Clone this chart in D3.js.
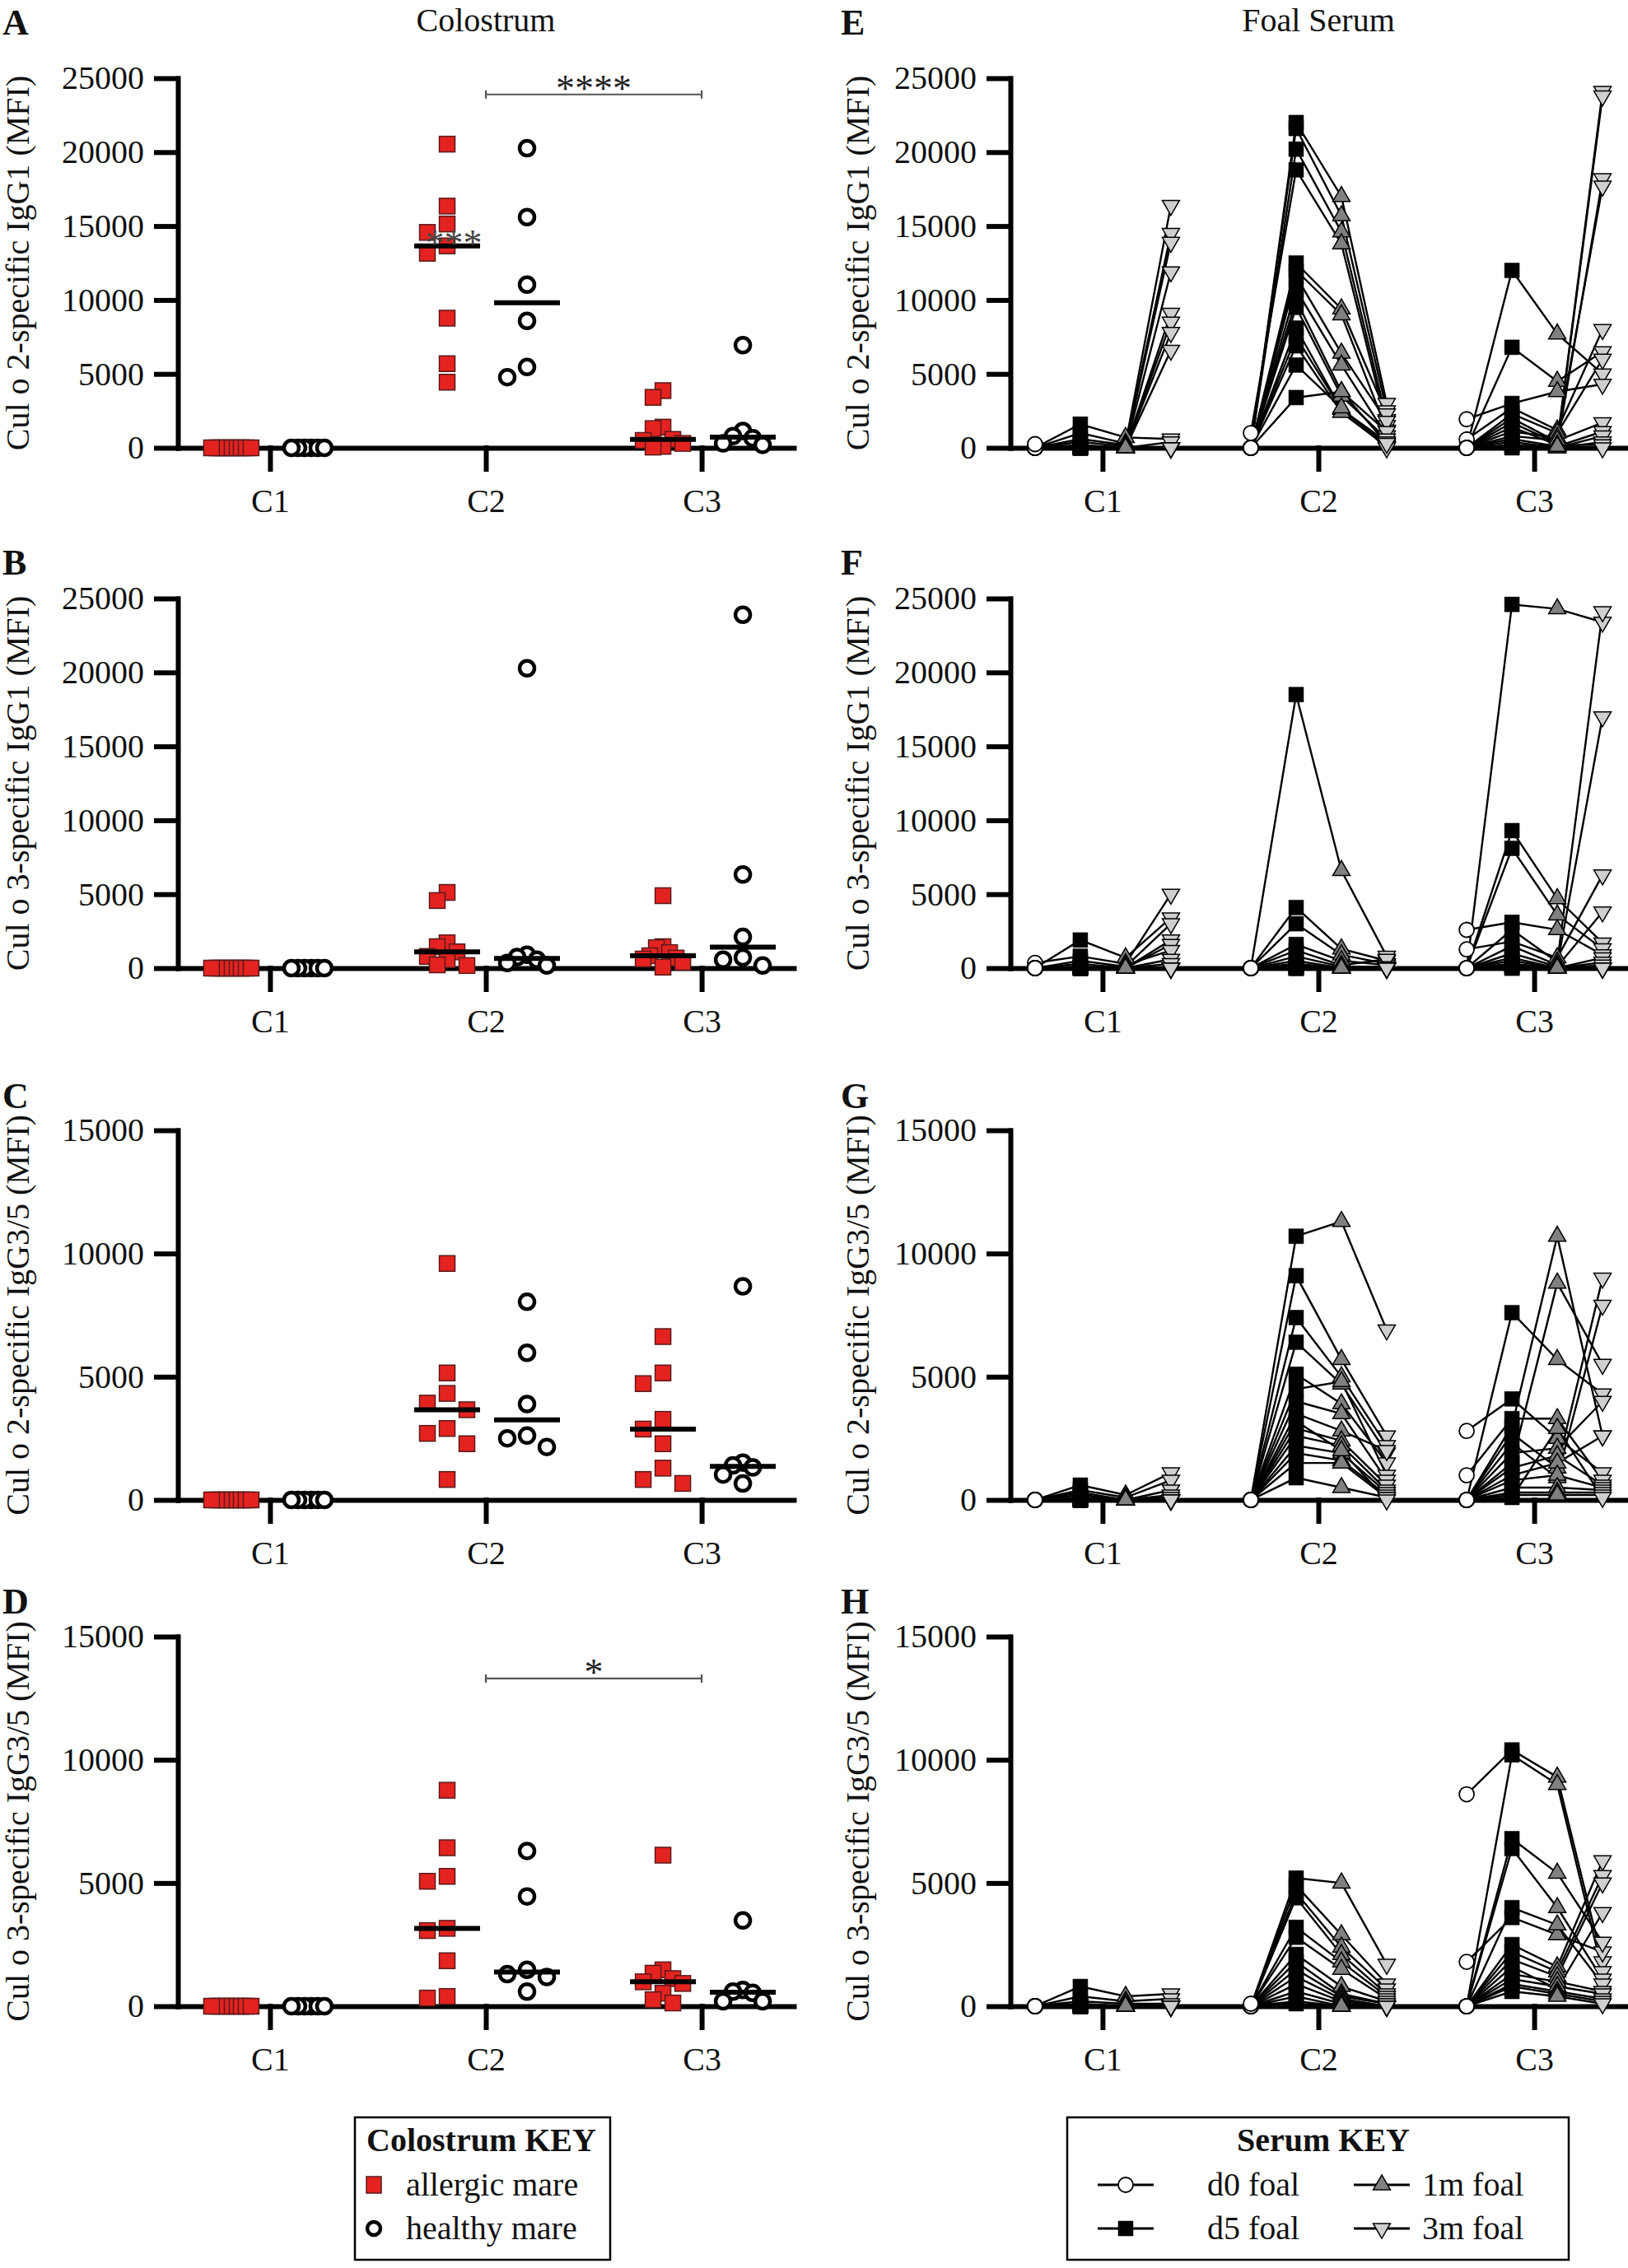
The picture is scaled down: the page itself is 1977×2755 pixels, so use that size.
<!DOCTYPE html>
<html>
<head>
<meta charset="utf-8">
<script src="https://cdn.jsdelivr.net/npm/d3@7"></script>
<style>
  body { margin: 0; background: #fff; }
  text { font-family: "Liberation Serif", "Times New Roman", serif; }
</style>
</head>
<body>
<div id="chart"></div>
<script>
// ---- data ----
const categories = ['C1', 'C2', 'C3'];
const mareGroups = ['allergic', 'healthy'];
const timepoints = ['d0', 'd5', '1m', '3m'];
const igg1Ticks = [0, 5000, 10000, 15000, 20000, 25000];
const igg35Ticks = [0, 5000, 10000, 15000];
const yTitles = [
  'Cul o 2-specific IgG1 (MFI)',
  'Cul o 3-specific IgG1 (MFI)',
  'Cul o 2-specific IgG3/5 (MFI)',
  'Cul o 3-specific IgG3/5 (MFI)'
];
const colostrumKeyLabels = ['allergic mare', 'healthy mare'];
const serumKeyLabels = ['d0 foal', '1m foal', 'd5 foal', '3m foal'];

// colostrum: [C1, C2, C3] per mare group
const A_allergic = [
  [0, 0, 0, 0, 0, 0, 0, 0, 0],
  [20540, 16350, 15140, 14570, 13660, 13160, 8770, 5690, 4440],
  [3870, 3415, 1400, 1300, 570, 500, 300, 100, 50]
];
const A_healthy = [
  [0, 0, 0, 0, 0, 0],
  [20265, 15600, 11040, 8585, 5465, 4780],
  [6945, 1140, 800, 660, 300, 200]
];
const B_allergic = [
  [0, 0, 0, 0, 0, 0, 0, 0, 0],
  [5120, 4570, 1714, 1450, 1100, 790, 570, 220, 176],
  [4900, 1450, 1380, 1050, 835, 680, 615, 395, 66]
];
const B_healthy = [
  [0, 0, 0, 0, 0, 0],
  [20280, 900, 750, 570, 350, 180],
  [23900, 6330, 2110, 725, 570, 176]
];
const C_allergic = [
  [0, 0, 0, 0, 0, 0, 0, 0, 0],
  [9595, 5153, 4323, 3928, 3660, 2900, 2700, 2280, 830],
  [6630, 5153, 4720, 3270, 2875, 2280, 1290, 830, 670]
];
const C_healthy = [
  [0, 0, 0, 0, 0, 0],
  [8040, 5970, 3890, 2610, 2500, 2150],
  [8670, 1515, 1400, 1320, 1030, 670]
];
const D_allergic = [
  [0, 0, 0, 0, 0, 0, 0, 0, 0],
  [8765, 6430, 5270, 5070, 3160, 3070, 1845, 395, 330],
  [6130, 1476, 1340, 1120, 990, 923, 527, 264, 132]
];
const D_healthy = [
  [0, 0, 0, 0, 0, 0],
  [6300, 4455, 1476, 1300, 1186, 593],
  [3480, 660, 593, 540, 198, 198]
];

// foal serum: per category [d0, d5, 1m, 3m], index = foal
const E_C1 = [
  [0, 0, 0, 0, 0, 0, 0, 0, 0, 0, 0, 0, 0, 0, 250],
  [1600, 1000, 600, 400, 200, 100, 0, 0, 0, 0, 0, 0, 0, 0, 0],
  [700, 300, 200, 100, 0, 0, 0, 0, 0, 0, 0, 0, 0, 0, 0],
  [600, 16400, 14500, 13900, 11900, 9100, 8500, 7800, 6600, 400, 0, 0, 0, 0, 0]
];
const E_C2 = [
  [0, 0, 0, 1000, 0, 0, 0, 0, 0, 0, 0, 0, 0, 0, 0],
  [22000, 21600, 20200, 18800, 12500, 12000, 11600, 10700, 10000, 9500, 8100, 7500, 6900, 5600, 3400],
  [17000, 15700, 14600, 13800, 9400, 9000, 6400, 5600, 3800, 3500, 2600, 2600, 2400, 2700, 3800],
  [3000, 2500, 1900, 1500, 2300, 1200, 1800, 800, 1100, 600, 400, 200, 100, 0, 300]
];
const E_C3 = [
  [0, 0, 1935, 570, 0, 0, 0, 0, 0, 0, 0, 0, 0, 0, 0],
  [12000, 6800, 3000, 2700, 2300, 2000, 1700, 1400, 1100, 800, 600, 400, 200, 100, 0],
  [7700, 4500, 3800, 1200, 1000, 400, 300, 200, 700, 500, 100, 0, 0, 200, 100],
  [5000, 6500, 4300, 8000, 6000, 24100, 23800, 18200, 17700, 1700, 1100, 800, 400, 200, 0]
];
const F_C1 = [
  [0, 350, 0, 0, 0, 0, 0, 0, 0, 0, 0, 0, 0, 0, 0],
  [1900, 800, 500, 300, 100, 0, 0, 0, 0, 0, 0, 0, 0, 0, 0],
  [700, 300, 100, 0, 0, 200, 0, 0, 0, 0, 0, 0, 0, 0, 0],
  [3400, 5000, 3000, 1900, 1600, 1200, 600, 300, 0, 0, 0, 0, 0, 0, 0]
];
const F_C2 = [
  [0, 0, 0, 0, 0, 0, 0, 0, 0, 0, 0, 0, 0, 0, 0],
  [18500, 4100, 3000, 1600, 1200, 800, 500, 300, 200, 100, 0, 0, 0, 0, 0],
  [6600, 1300, 900, 500, 200, 100, 0, 0, 0, 0, 0, 0, 0, 0, 0],
  [800, 500, 300, 200, 600, 100, 0, 0, 0, 0, 0, 0, 0, 0, 0]
];
const F_C3 = [
  [0, 0, 0, 2590, 1270, 0, 0, 0, 0, 0, 0, 0, 0, 0, 0],
  [24600, 9300, 8100, 3100, 1800, 2600, 1500, 1000, 700, 500, 300, 200, 100, 0, 0],
  [24300, 4700, 3600, 2600, 700, 400, 200, 100, 0, 0, 0, 100, 0, 0, 0],
  [23400, 1700, 1300, 900, 6300, 24100, 17000, 3800, 700, 400, 200, 0, 0, 0, 0]
];
const G_C1 = [
  [0, 0, 0, 0, 0, 0, 0, 0, 0, 0, 0, 0, 0, 0, 0],
  [600, 400, 300, 200, 100, 0, 0, 0, 0, 0, 0, 0, 0, 0, 0],
  [200, 100, 0, 0, 0, 0, 0, 0, 0, 0, 0, 0, 0, 0, 0],
  [1100, 800, 400, 200, 100, 0, 0, 0, 0, 0, 0, 0, 0, 0, 0]
];
const G_C2 = [
  [0, 0, 0, 0, 0, 0, 0, 0, 0, 0, 0, 0, 0, 0, 0],
  [10700, 9100, 7400, 6400, 5100, 4500, 4000, 3500, 2900, 2600, 2200, 1900, 1500, 900, 3200],
  [11300, 5700, 5000, 4700, 3900, 4800, 3500, 2800, 2400, 2200, 1900, 1600, 1500, 500, 2000],
  [6900, 2600, 2200, 1900, 1500, 1000, 800, 2000, 600, 400, 300, 200, 100, 100, 0]
];
const G_C3 = [
  [2800, 1000, 0, 0, 0, 0, 0, 0, 0, 0, 0, 0, 0, 0, 0],
  [4100, 3300, 7600, 3000, 1500, 2700, 2300, 1900, 1300, 1000, 800, 500, 300, 200, 100],
  [2500, 3300, 5700, 10700, 8800, 1300, 900, 2100, 1800, 1500, 1000, 500, 300, 200, 2900],
  [1100, 800, 4300, 2600, 5500, 9000, 7900, 4000, 600, 2600, 500, 400, 300, 200, 100]
];
const H_C1 = [
  [0, 0, 0, 0, 0, 0, 0, 0, 0, 0, 0, 0, 0, 0, 0],
  [800, 400, 200, 100, 0, 0, 0, 0, 0, 0, 0, 0, 0, 0, 0],
  [400, 200, 100, 0, 0, 0, 0, 0, 0, 0, 0, 0, 0, 0, 0],
  [500, 300, 100, 0, 0, 0, 0, 0, 0, 0, 0, 0, 0, 0, 0]
];
const H_C2 = [
  [0, 0, 0, 0, 0, 0, 0, 0, 0, 0, 0, 0, 0, 0, 100],
  [5200, 4900, 4600, 4400, 3200, 2800, 2100, 1800, 1500, 1200, 900, 600, 400, 200, 100],
  [5000, 2900, 2400, 2100, 1800, 1500, 800, 500, 400, 300, 200, 100, 0, 0, 0],
  [1700, 900, 700, 500, 400, 300, 200, 100, 100, 0, 0, 0, 0, 0, 0]
];
const H_C3 = [
  [8600, 0, 1800, 0, 0, 0, 0, 0, 0, 0, 0, 0, 0, 0, 0],
  [10400, 10200, 3600, 6800, 6400, 4000, 2500, 2200, 1900, 1600, 1300, 1100, 900, 800, 600],
  [9300, 9000, 2900, 5400, 4000, 3300, 1600, 1400, 1200, 700, 1000, 800, 600, 500, 400],
  [1800, 1400, 2200, 2600, 1100, 900, 5900, 5300, 5000, 3800, 600, 500, 300, 200, 100]
];

// significance marks
const sigA = { from: 'C2', to: 'C3', value: 23900, label: '****' };
const sigD = { from: 'C2', to: 'C3', value: 13300, label: '*' };
const noteA = { cat: 'C2', group: 'allergic', value: 14300, label: '***' };

// ---- layout ----
const W = 1977, H = 2755;
const plotW = 748, plotH = 449;
const leftX0 = 216, rightX0 = 1227;
const rowTops = [95, 727, 1373, 1988];
const letterBaselines = [42, 698, 1346, 1960];
const FONT = '"Liberation Serif", "Times New Roman", serif';

const svg = d3.select('#chart').append('svg')
  .attr('width', W).attr('height', H)
  .style('background', '#fff');

function makeScales(x0, row, ticks) {
  const x = d3.scalePoint().domain(categories).range([x0, x0 + plotW]).padding(0.427);
  const y = d3.scaleLinear().domain([0, d3.max(ticks)]).range([rowTops[row] + plotH, rowTops[row]]);
  return { x, y };
}

function drawAxes(g, x, y, ticks, x0, titleX, title) {
  const yAxis = d3.axisLeft(y).tickValues(ticks).tickSize(26).tickSizeOuter(0)
    .tickPadding(15).tickFormat(d3.format('d'));
  const xAxis = d3.axisBottom(x).tickSize(26).tickSizeOuter(0).tickPadding(24);

  const ya = g.append('g').attr('transform', `translate(${x0},0)`).call(yAxis);
  const xa = g.append('g').attr('transform', `translate(0,${y(0)})`).call(xAxis);
  [ya, xa].forEach(a => {
    a.attr('font-family', FONT).attr('font-size', 40);
    a.selectAll('.domain, .tick line').attr('stroke', '#000').attr('stroke-width', 6)
      .attr('stroke-linecap', 'square');
    a.selectAll('.tick text').attr('fill', '#111');
  });

  const cy = (y.range()[0] + y.range()[1]) / 2;
  g.append('text')
    .attr('transform', `translate(${titleX},${cy}) rotate(-90)`)
    .attr('text-anchor', 'middle').attr('font-size', 40).attr('fill', '#111')
    .text(title);
}

// simple swarm layout, roughly like GraphPad scatter
function swarm(values, y, step, maxOff) {
  const pts = values.map(v => ({ v, py: y(v), dx: 0 })).sort((a, b) => a.py - b.py);
  const cand = [0];
  for (let k = 1; k < 12; k++) cand.push(-k * step, k * step);
  const placed = [];
  pts.forEach(p => {
    for (const c of cand) {
      if (!placed.some(q => Math.abs(q.py - p.py) < 20 && Math.abs(q.dx - c) < 20)) { p.dx = c; break; }
    }
    placed.push(p);
  });
  const m = d3.max(placed, p => Math.abs(p.dx));
  if (m > maxOff) placed.forEach(p => { p.dx *= maxOff / m; });
  return placed;
}

function drawSig(g, x, y, sig) {
  const yy = y(sig.value);
  g.append('path')
    .attr('d', `M${x(sig.from)},${yy - 5}V${yy + 5}M${x(sig.from)},${yy}H${x(sig.to)}M${x(sig.to)},${yy - 5}V${yy + 5}`)
    .attr('stroke', '#555').attr('stroke-width', 2.2).attr('fill', 'none');
  g.append('text')
    .attr('x', (x(sig.from) + x(sig.to)) / 2).attr('y', yy + 8)
    .attr('text-anchor', 'middle').attr('font-size', 46).attr('fill', '#222')
    .text(sig.label);
}

const groupX = d3.scalePoint().domain(mareGroups).range([-47, 50]);

function drawColostrum(row, letter, ticks, allergic, healthy, sig, note) {
  const g = svg.append('g');
  const { x, y } = makeScales(leftX0, row, ticks);
  drawAxes(g, x, y, ticks, leftX0, 35, yTitles[row]);
  g.append('text').attr('x', 3).attr('y', letterBaselines[row])
    .attr('font-size', 44).attr('font-weight', 'bold').attr('fill', '#111').text(letter);

  const sets = { allergic, healthy };
  categories.forEach((c, ci) => {
    mareGroups.forEach(grp => {
      const vals = sets[grp][ci];
      const cx = x(c) + groupX(grp);
      const pts = swarm(vals, y, 24, 24);
      if (grp === 'allergic') {
        g.selectAll(null).data(pts).join('rect')
          .attr('x', d => cx + d.dx - 9.5).attr('y', d => d.py - 9.5)
          .attr('width', 19).attr('height', 19)
          .attr('fill', '#e42320').attr('stroke', '#5a1a1a').attr('stroke-width', 1.5);
      } else {
        g.selectAll(null).data(pts).join('circle')
          .attr('cx', d => cx + d.dx).attr('cy', d => d.py).attr('r', 9)
          .attr('fill', '#fff').attr('stroke', '#000').attr('stroke-width', 4.5);
      }
      if (ci > 0) {
        const med = d3.median(vals);
        g.append('line')
          .attr('x1', cx - 40).attr('x2', cx + 40)
          .attr('y1', y(med)).attr('y2', y(med))
          .attr('stroke', '#000').attr('stroke-width', 6);
      }
    });
  });
  if (sig) drawSig(g, x, y, sig);
  if (note) {
    g.append('text')
      .attr('x', x(note.cat) + groupX(note.group) + 8).attr('y', y(note.value) + 24)
      .attr('text-anchor', 'middle').attr('font-size', 46).attr('fill', '#444')
      .text(note.label);
  }
}

const timeX = d3.scalePoint().domain(timepoints).range([-82, 83]);
const symbols = {
  'd0': { path: d3.symbol(d3.symbolCircle, 254)(), fill: '#fff', stroke: '#000', sw: 1.8, rot: 0 },
  'd5': { path: d3.symbol(d3.symbolSquare, 324)(), fill: '#000', stroke: '#000', sw: 0.5, rot: 0 },
  '1m': { path: d3.symbol(d3.symbolTriangle, 190)(), fill: '#808080', stroke: '#000', sw: 1.5, rot: 0 },
  '3m': { path: d3.symbol(d3.symbolTriangle, 190)(), fill: '#cfcfcf', stroke: '#000', sw: 1.5, rot: 180 }
};

function drawSerum(row, letter, ticks, perCat) {
  const g = svg.append('g');
  const { x, y } = makeScales(rightX0, row, ticks);
  drawAxes(g, x, y, ticks, rightX0, 1055, yTitles[row]);
  g.append('text').attr('x', 1021).attr('y', letterBaselines[row])
    .attr('font-size', 44).attr('font-weight', 'bold').attr('fill', '#111').text(letter);

  const lineG = g.append('g');
  const markG = g.append('g');
  categories.forEach((c, ci) => {
    const data = perCat[ci];
    const foals = d3.range(data[0].length)
      .map(i => timepoints.map((t, ti) => ({ t, v: data[ti][i] })));
    const line = d3.line().x(d => x(c) + timeX(d.t)).y(d => y(d.v));
    lineG.selectAll(null).data(foals).join('path')
      .attr('d', line).attr('fill', 'none').attr('stroke', '#000').attr('stroke-width', 2.4);
  });
  timepoints.forEach((t, ti) => {
    const s = symbols[t];
    categories.forEach((c, ci) => {
      markG.selectAll(null).data(perCat[ci][ti]).join('path')
        .attr('transform', v => `translate(${x(c) + timeX(t)},${y(v)}) rotate(${s.rot})`)
        .attr('d', s.path).attr('fill', s.fill).attr('stroke', s.stroke).attr('stroke-width', s.sw);
    });
  });
}

// column titles
svg.append('text').attr('x', 590).attr('y', 38).attr('text-anchor', 'middle')
  .attr('font-size', 40).attr('fill', '#111').text('Colostrum');
svg.append('text').attr('x', 1601).attr('y', 38).attr('text-anchor', 'middle')
  .attr('font-size', 40).attr('fill', '#111').text('Foal Serum');

drawColostrum(0, 'A', igg1Ticks, A_allergic, A_healthy, sigA, noteA);
drawColostrum(1, 'B', igg1Ticks, B_allergic, B_healthy, null, null);
drawColostrum(2, 'C', igg35Ticks, C_allergic, C_healthy, null, null);
drawColostrum(3, 'D', igg35Ticks, D_allergic, D_healthy, sigD, null);

drawSerum(0, 'E', igg1Ticks, [E_C1, E_C2, E_C3]);
drawSerum(1, 'F', igg1Ticks, [F_C1, F_C2, F_C3]);
drawSerum(2, 'G', igg35Ticks, [G_C1, G_C2, G_C3]);
drawSerum(3, 'H', igg35Ticks, [H_C1, H_C2, H_C3]);

// ---- legends ----
const legRows = [2654, 2707];
const colKey = svg.append('g');
colKey.append('rect').attr('x', 431).attr('y', 2572).attr('width', 310).attr('height', 173)
  .attr('fill', 'none').attr('stroke', '#000').attr('stroke-width', 2.5);
colKey.append('text').attr('x', 445).attr('y', 2613).attr('font-size', 40)
  .attr('font-weight', 'bold').attr('fill', '#111').text('Colostrum KEY');
colKey.append('rect').attr('x', 445).attr('y', legRows[0] - 10).attr('width', 18).attr('height', 20)
  .attr('fill', '#e42320').attr('stroke', '#5a1a1a').attr('stroke-width', 1.5);
colKey.append('circle').attr('cx', 454).attr('cy', legRows[1]).attr('r', 8)
  .attr('fill', '#fff').attr('stroke', '#000').attr('stroke-width', 4.5);
colKey.selectAll(null).data(colostrumKeyLabels).join('text')
  .attr('x', 493).attr('y', (d, i) => legRows[i] + 13)
  .attr('font-size', 40).attr('fill', '#111').text(d => d);

const serKey = svg.append('g');
serKey.append('rect').attr('x', 1296).attr('y', 2572).attr('width', 609).attr('height', 173)
  .attr('fill', 'none').attr('stroke', '#000').attr('stroke-width', 2.5);
serKey.append('text').attr('x', 1607).attr('y', 2613).attr('text-anchor', 'middle')
  .attr('font-size', 40).attr('font-weight', 'bold').attr('fill', '#111').text('Serum KEY');
const keyTimes = ['d0', '1m', 'd5', '3m'];
const keyCols = [{ sx: 1367, tx: 1466 }, { sx: 1678, tx: 1727 }];
keyTimes.forEach((t, i) => {
  const col = keyCols[i % 2], ry = legRows[Math.floor(i / 2)];
  const s = symbols[t];
  serKey.append('line').attr('x1', col.sx - 34).attr('x2', col.sx + 34)
    .attr('y1', ry).attr('y2', ry).attr('stroke', '#000').attr('stroke-width', 3);
  serKey.append('path').attr('d', s.path)
    .attr('transform', `translate(${col.sx},${ry}) rotate(${s.rot})`)
    .attr('fill', s.fill).attr('stroke', s.stroke).attr('stroke-width', s.sw);
  serKey.append('text').attr('x', col.tx).attr('y', ry + 13)
    .attr('font-size', 40).attr('fill', '#111').text(serumKeyLabels[i]);
});
</script>
</body>
</html>
